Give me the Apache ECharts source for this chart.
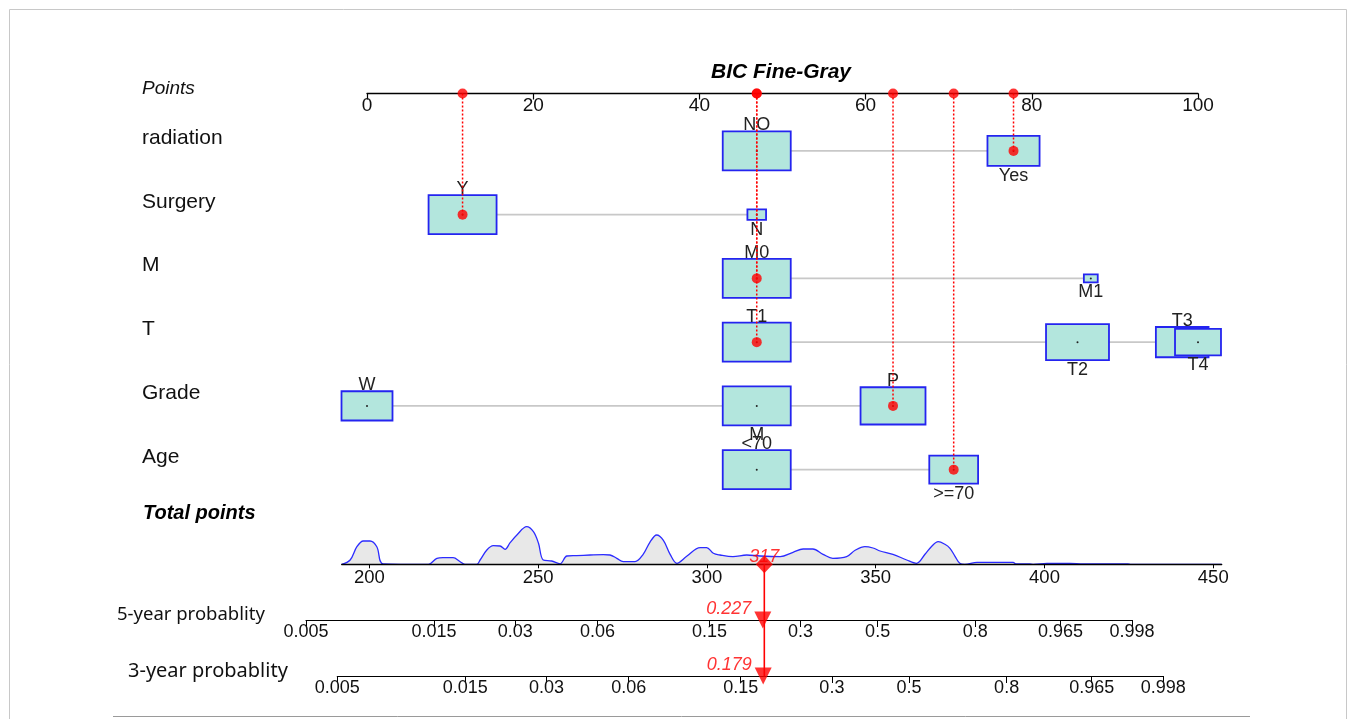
<!DOCTYPE html>
<html>
<head>
<meta charset="utf-8">
<title>BIC Fine-Gray nomogram</title>
<script src="https://cdn.jsdelivr.net/npm/echarts@6/dist/echarts.min.js"></script>
<style>
  html, body { margin: 0; padding: 0; background: #fff; }
  #chart { width: 1355px; height: 719px; }
</style>
</head>
<body>
<div id="chart"></div>
<script>
// variables of the model, top to bottom
const variables = ['radiation', 'Surgery', 'M', 'T', 'Grade', 'Age'];

// one entry per level
const levelVar    = [0, 0, 1, 1, 2, 2, 3, 3, 3, 3, 4, 4, 4, 5, 5];
const levelNames  = ['NO', 'Yes', 'Y', 'N', 'M0', 'M1', 'T1', 'T2', 'T3', 'T4', 'W', 'M', 'P', '<70', '>=70'];
const levelPoints = [46.9, 77.8, 11.5, 46.9, 46.9, 87.1, 46.9, 85.5, 98.1, 100, 0, 46.9, 63.3, 46.9, 70.6];
const levelShare  = [0.63, 0.37, 0.93, 0.07, 0.96, 0.04, 0.35, 0.30, 0.21, 0.16, 0.225, 0.40, 0.365, 0.66, 0.34];

// the scored patient (red)
const chosenLevels = ['Yes', 'Y', 'M0', 'T1', 'P', '>=70'];

const totalTicks = [200, 250, 300, 350, 400, 450];
const probTicks  = [0.005, 0.015, 0.03, 0.06, 0.15, 0.3, 0.5, 0.8, 0.965, 0.998];
const prob5y = 0.227;
const prob3y = 0.179;

// distribution of total points
const densityX = [191.8, 194.3, 196.3, 198.2, 200.2, 202.2, 204.1, 217.5, 220.0, 221.8, 224.8, 226.9, 228.3, 231.8,
  232.8, 234.8, 236.7, 238.7, 240.2, 241.7, 243.7, 246.6, 248.6, 250.1, 251.5, 254.0, 256.5, 258.5, 261.4, 265.4,
  269.3, 271.3, 273.3, 275.2, 278.7, 281.1, 283.1, 285.1, 287.1, 289.1, 291.1, 294.0, 298.0, 299.9, 301.9, 303.9,
  307.7, 311.8, 315.7, 321.7, 325.5, 328.5, 331.4, 334.4, 337.3, 341.4, 343.9, 346.8, 349.2, 351.3, 355.1, 359.2,
  362.1, 364.6, 366.6, 368.5, 370.5, 372.0, 373.5, 374.9, 376.4, 380.0, 390.7, 391.6, 395.7, 396.6, 400.7, 407.6,
  411.4, 417.9, 424.7, 425.6, 452.5];
const densityY = [0, 4.3, 17.6, 23.3, 23.3, 17.6, 0.5, 0, 6, 6.6, 6.6, 2.6, 0, 0,
  4.3, 14.3, 18.6, 18.3, 15, 21.6, 29.3, 37.6, 32.6, 21, 4.3, 3.3, 0.5, 8.3, 8.7, 9.3,
  9.7, 9.3, 6, 2.7, 2.7, 10, 22, 29.3, 24, 10, 1, 8, 16.7, 16.7, 11, 9.3,
  7.7, 9.3, 8.3, 7.7, 12, 15.3, 15.3, 10, 6, 7.7, 14, 17.7, 16.3, 13.3, 10, 4.3,
  1, 10, 18, 22.7, 20, 16, 8, 1, 0, 2, 2, 0.3, 0.3, 0, 1, 1,
  0.3, 0.5, 0.5, 0, 0];

const FONT = '"Liberation Sans", Arial, sans-serif';
const RED = '#ff0000';
const cloglog = p => Math.log(-Math.log(1 - p));

const chosenIdx = chosenLevels.map((n, r) => levelNames.findIndex((m, i) => m === n && levelVar[i] === r));
const total = chosenIdx.reduce((s, i) => s + levelPoints[i], 0);

// biggest share in each variable, and label side (alternating above / below)
const maxShare = variables.map((_, r) => Math.max(...levelShare.filter((_, i) => levelVar[i] === r)));
const levelSide = levelVar.map((r, i) => levelVar.slice(0, i).filter(v => v === r).length % 2);

const probLabel = v => {
  let best = 0;
  probTicks.forEach((p, i) => { if (Math.abs(cloglog(p) - v) < Math.abs(cloglog(probTicks[best]) - v)) best = i; });
  return String(probTicks[best]);
};

const probAxis = (gridIndex) => ({
  gridIndex, type: 'value', min: cloglog(probTicks[0]), max: cloglog(probTicks[probTicks.length - 1]),
  axisLine: { onZero: false, lineStyle: { color: '#000', width: 1.2 } },
  axisTick: { customValues: probTicks.map(cloglog), length: 7, lineStyle: { color: '#000', width: 1 } },
  axisLabel: { customValues: probTicks.map(cloglog), formatter: probLabel, margin: 3, fontSize: 18, color: '#111', fontFamily: FONT },
  splitLine: { show: false }
});

const triangle = (xAxisIndex, p) => ({
  type: 'scatter', xAxisIndex, yAxisIndex: xAxisIndex, clip: false, z: 5,
  symbol: 'triangle', symbolRotate: 180, symbolSize: [17, 17],
  itemStyle: { color: RED },
  label: {
    show: true, position: 'left', distance: 3, offset: [0, -11],
    formatter: String(p), color: RED, fontStyle: 'italic', fontSize: 18, fontFamily: FONT
  },
  data: [[cloglog(p), 0]]
});

const chart = echarts.init(document.getElementById('chart'));
chart.setOption({
  animation: false,
  backgroundColor: '#fff',
  grid: [
    { left: 367, top: 93.5, width: 831, height: 408 },
    { left: 341.7, top: 524.3, width: 880, height: 40 },
    { left: 306, top: 600, width: 826, height: 20 },
    { left: 337.3, top: 656, width: 826, height: 20 }
  ],
  xAxis: [
    {
      gridIndex: 0, type: 'value', position: 'top', min: 0, max: 100, interval: 20,
      axisLine: { onZero: false, lineStyle: { color: '#000', width: 1.3 } },
      axisTick: { inside: true, length: 6, lineStyle: { color: '#000', width: 1.2 } },
      axisLabel: { inside: true, margin: 3, fontSize: 19, color: '#111', fontFamily: FONT },
      splitLine: { show: false }
    },
    {
      gridIndex: 1, type: 'value', min: 191.8, max: 452.5, z: 3,
      axisLine: { onZero: false, lineStyle: { color: '#000', width: 1.3 } },
      axisTick: { customValues: totalTicks, length: 4, lineStyle: { color: '#000', width: 1 } },
      axisLabel: { customValues: totalTicks, margin: 4, fontSize: 18.5, color: '#111', fontFamily: FONT },
      splitLine: { show: false }
    },
    probAxis(2),
    probAxis(3)
  ],
  yAxis: [
    {
      gridIndex: 0, type: 'value', inverse: true, min: 0.1, max: 6.5,
      axisLine: { show: false }, axisTick: { show: false }, splitLine: { show: false },
      axisLabel: {
        customValues: variables.map((_, r) => r + 1 - 0.2),
        formatter: v => variables[Math.round(v + 0.2) - 1],
        align: 'left', margin: 225, fontSize: 21, color: '#111', fontFamily: FONT
      }
    },
    { gridIndex: 1, type: 'value', min: 0, max: 40, show: false },
    { gridIndex: 2, type: 'value', min: 0, max: 20, show: false },
    { gridIndex: 3, type: 'value', min: 0, max: 20, show: false }
  ],
  graphic: [
    { type: 'rect', silent: true, shape: { x: 9.5, y: 9.5, width: 1337, height: 730 }, style: { fill: 'none', stroke: '#c8c8c8', lineWidth: 1 } },
    { type: 'line', silent: true, shape: { x1: 113, y1: 716.5, x2: 1250, y2: 716.5 }, style: { stroke: '#9a9a9a', lineWidth: 1 } },
    { type: 'text', x: 781, y: 72, style: { text: 'BIC Fine-Gray', font: 'italic bold 21px ' + FONT, fill: '#000', align: 'center', verticalAlign: 'middle' } },
    { type: 'text', x: 142, y: 89, style: { text: 'Points', font: 'italic 19px ' + FONT, fill: '#111', verticalAlign: 'middle' } },
    { type: 'text', x: 143, y: 513, style: { text: 'Total points', font: 'italic bold 20px ' + FONT, fill: '#000', verticalAlign: 'middle' } },
    { type: 'text', x: 117, y: 615, style: { text: '5-year probablity', font: '18.5px "Noto Sans", sans-serif', fill: '#111', verticalAlign: 'middle' } },
    { type: 'text', x: 128, y: 671, style: { text: '3-year probablity', font: '20px "Noto Sans", sans-serif', fill: '#111', verticalAlign: 'middle' } }
  ],
  series: [
    {
      // grey line joining the levels of each variable
      type: 'custom', xAxisIndex: 0, yAxisIndex: 0, clip: false, z: 1,
      encode: { x: [0, 1], y: 2 },
      data: variables.map((_, r) => {
        const pts = levelPoints.filter((_, i) => levelVar[i] === r);
        return [Math.min(...pts), Math.max(...pts), r + 1];
      }),
      renderItem: (params, api) => {
        const a = api.coord([api.value(0), api.value(2)]);
        const b = api.coord([api.value(1), api.value(2)]);
        return { type: 'line', shape: { x1: a[0], y1: a[1], x2: b[0], y2: b[1] }, style: { stroke: '#c8c8c8', lineWidth: 1.6 } };
      }
    },
    {
      // level boxes, size from the share of patients
      type: 'custom', xAxisIndex: 0, yAxisIndex: 0, clip: false, z: 2,
      encode: { x: 0, y: 1 },
      data: levelNames.map((_, i) => [levelPoints[i], levelVar[i] + 1, i]),
      renderItem: (params, api) => {
        const i = api.value(2);
        const [cx, cy] = api.coord([api.value(0), api.value(1)]);
        const k = Math.sqrt(levelShare[i] / maxShare[levelVar[i]]);
        const w = 68 * k, h = 39 * k;
        const above = levelSide[i] === 0;
        return {
          type: 'group',
          children: [
            { type: 'rect', shape: { x: cx - w / 2, y: cy - h / 2, width: w, height: h },
              style: { fill: '#b3e6dd', stroke: '#2424f0', lineWidth: 1.8 } },
            { type: 'circle', shape: { cx, cy, r: 1 }, style: { fill: '#222' } },
            { type: 'text', x: cx, y: above ? cy - h / 2 + 3 : cy + h / 2 + 1,
              style: { text: levelNames[i], fill: '#222', fontSize: 18, fontFamily: FONT,
                       align: 'center', verticalAlign: above ? 'bottom' : 'top' } }
          ]
        };
      }
    },
    {
      // dotted guides from the points axis
      type: 'custom', xAxisIndex: 0, yAxisIndex: 0, clip: false, z: 3,
      encode: { x: 0, y: 1 },
      data: chosenIdx.map(i => [levelPoints[i], levelVar[i] + 1]),
      renderItem: (params, api) => {
        const a = api.coord([api.value(0), 0.1]);
        const b = api.coord([api.value(0), api.value(1)]);
        return { type: 'line', shape: { x1: a[0], y1: a[1], x2: b[0], y2: b[1] },
                 style: { stroke: RED, lineWidth: 1.5, lineDash: [2, 2] } };
      }
    },
    {
      type: 'scatter', xAxisIndex: 0, yAxisIndex: 0, clip: false, z: 4,
      symbol: 'circle', symbolSize: 10, itemStyle: { color: RED },
      data: chosenIdx.map(i => [levelPoints[i], levelVar[i] + 1])
        .concat(chosenIdx.map(i => [levelPoints[i], 0.1]))
    },
    {
      type: 'line', xAxisIndex: 1, yAxisIndex: 1, z: 2,
      showSymbol: false, symbol: 'none', smooth: 0.35,
      lineStyle: { color: '#2b2bff', width: 1.3 },
      areaStyle: { color: '#e8e8e8', opacity: 1 },
      data: densityX.map((x, i) => [x, densityY[i]])
    },
    {
      // arrow from total points down to the probability axes
      type: 'line', xAxisIndex: 1, yAxisIndex: 1, clip: false, z: 4,
      symbol: 'none', lineStyle: { color: RED, width: 1.6 },
      data: [[total, 0], [total, -112]]
    },
    {
      type: 'scatter', xAxisIndex: 1, yAxisIndex: 1, clip: false, z: 4,
      symbolSize: 1, itemStyle: { color: 'rgba(0,0,0,0)' },
      label: { show: true, position: 'inside', offset: [0, -7], formatter: String(Math.round(total)),
               color: RED, fontStyle: 'italic', fontSize: 18, fontFamily: FONT },
      data: [[total, 0]]
    },
    {
      type: 'scatter', xAxisIndex: 1, yAxisIndex: 1, clip: false, z: 5,
      symbol: 'diamond', symbolSize: [17, 18], itemStyle: { color: RED },
      data: [[total, 0]]
    },
    triangle(2, prob5y),
    triangle(3, prob3y)
  ]
});
</script>
</body>
</html>
